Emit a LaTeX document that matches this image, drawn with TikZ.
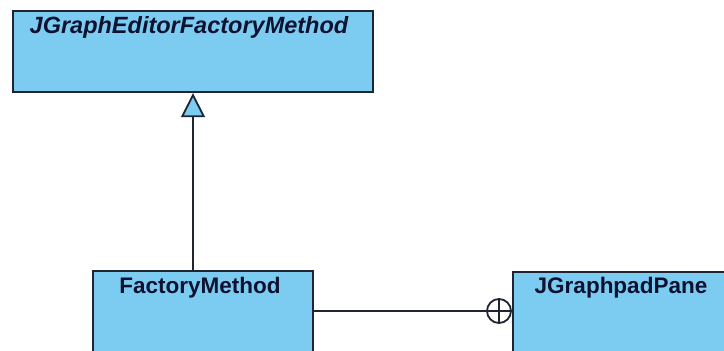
\documentclass[tikz,border=0pt]{standalone}
\usepackage{fontspec}
\setmainfont{Liberation Sans}
\usetikzlibrary{arrows.meta}
\definecolor{classfill}{RGB}{124,204,242}
\definecolor{classline}{RGB}{30,36,50}
\definecolor{classtext}{RGB}{12,18,48}
\tikzset{
  classbox/.style={draw=classline, line width=2.2pt, fill=classfill, rectangle, anchor=north west, inner sep=0pt},
  classname/.style={text=classtext, font=\fontsize{22.5}{24}\selectfont\bfseries, anchor=base, inner sep=0pt},
  link/.style={draw=classline, line width=2pt},
  nestmark/.style={circle, draw=classline, line width=1.8pt, fill=white, minimum size=24pt, inner sep=0pt,
    path picture={\draw[classline, line width=1.8pt]
      (path picture bounding box.north) -- (path picture bounding box.south)
      (path picture bounding box.west) -- (path picture bounding box.east);}}
}
\begin{document}
\begin{tikzpicture}[x=1pt,y=-1pt]
  \useasboundingbox (0,0) rectangle (724,351);
  \clip (0,0) rectangle (724,351);
  \fill[white] (0,0) rectangle (724,351);

  % classes
  \node[classbox, minimum width=360pt, minimum height=81pt] (base) at (12,10) {};
  \node[classname, font=\fontsize{23.5}{25}\selectfont\bfseries\itshape] (baseName) at (189,33) {JGraphEditorFactoryMethod};

  \node[classbox, minimum width=220pt, minimum height=100pt] (fm) at (92,270) {};
  \node[classname] (fmName) at (200,293) {FactoryMethod};

  \node[classbox, minimum width=212pt, minimum height=100pt] (pane) at (512,271) {};
  \node[classname] (paneName) at (621,293) {JGraphpadPane};

  % generalization
  \coordinate (gx) at (193,0);
  \draw[link, -{Triangle[open, fill=classfill, length=24pt, width=24pt, line width=1.8pt]}]
    (gx |- fm.north) -- (gx |- base.south);

  % nesting
  \node[nestmark] (nest) at (499,311) {};
  \draw[link] (fm.east |- nest) -- (nest.west);
\end{tikzpicture}
\end{document}
